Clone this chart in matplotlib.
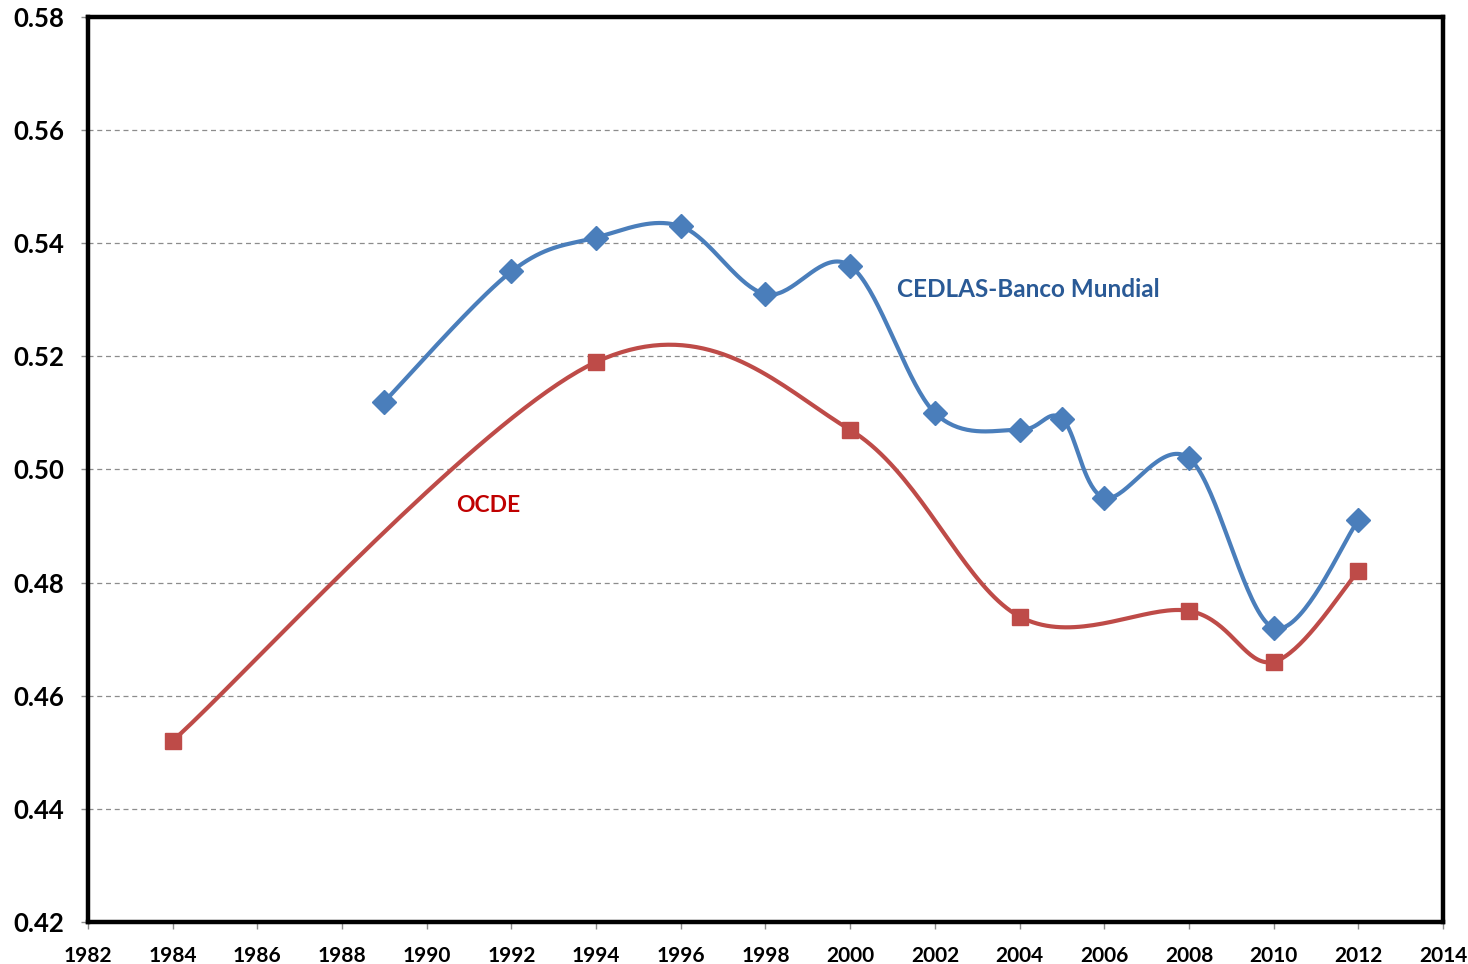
import numpy as np
import matplotlib
matplotlib.use("Agg")
import matplotlib.pyplot as plt

# Data
cedlas_years = [1989, 1992, 1994, 1996, 1998, 2000, 2002, 2004, 2005, 2006, 2008, 2010, 2012]
cedlas_vals = [0.512, 0.535, 0.541, 0.543, 0.531, 0.536, 0.510, 0.507, 0.509, 0.495, 0.502, 0.472, 0.491]
ocde_years = [1984, 1994, 2000, 2004, 2008, 2010, 2012]
ocde_vals = [0.452, 0.519, 0.507, 0.474, 0.475, 0.466, 0.482]

x_ticks = list(range(1982, 2015, 2))
y_ticks = [0.42, 0.44, 0.46, 0.48, 0.50, 0.52, 0.54, 0.56, 0.58]

plt.rcParams['font.family'] = ['Lato', 'DejaVu Sans']

fig = plt.figure(figsize=(14.68, 9.64), dpi=100)
ax = fig.add_axes([0.0599, 0.0436, 0.9231, 0.9388])
ax.set_xlim(1982, 2014)
ax.set_ylim(0.42, 0.58)


def smooth(xs, ys, n=40):
    # Excel-like Catmull-Rom Bezier smoothing computed in display space
    pts = ax.transData.transform(np.column_stack([xs, ys]))
    P = np.vstack([pts[0], pts, pts[-1]])
    out = []
    for i in range(1, len(P) - 2):
        p0, p1, p2, p3 = P[i - 1], P[i], P[i + 1], P[i + 2]
        c1 = p1 + (p2 - p0) / 6.0
        c2 = p2 - (p3 - p1) / 6.0
        t = np.linspace(0, 1, n)[:, None]
        b = ((1 - t) ** 3) * p1 + 3 * ((1 - t) ** 2) * t * c1 + 3 * (1 - t) * t ** 2 * c2 + t ** 3 * p2
        out.append(b if i == 1 else b[1:])
    out = np.vstack(out)
    d = ax.transData.inverted().transform(out)
    return d[:, 0], d[:, 1]


blue = '#4A7EBB'
red = '#BE4B48'

for yt in y_ticks[1:-1]:
    ax.axhline(yt, color='#8C8C8C', lw=0.9, ls=(0, (4, 3)), zorder=1)

bx, by = smooth(cedlas_years, cedlas_vals)
ax.plot(bx, by, color=blue, lw=3, zorder=3, solid_capstyle='round')
ax.plot(cedlas_years, cedlas_vals, ls='none', marker='D', ms=12, color=blue, zorder=4)

rx, ry = smooth(ocde_years, ocde_vals)
ax.plot(rx, ry, color=red, lw=3, zorder=3, solid_capstyle='round')
ax.plot(ocde_years, ocde_vals, ls='none', marker='s', ms=12, color=red, zorder=4)

ax.text(2001.1, 0.5319, 'CEDLAS-Banco Mundial', color='#2A5A96', fontsize=17.5,
        fontweight='bold', va='center', ha='left')
ax.text(1990.7, 0.4937, 'OCDE', color='#C00000', fontsize=16.5,
        fontweight='bold', va='center', ha='left')

ax.set_xticks(x_ticks)
ax.set_yticks(y_ticks)
ax.set_xticklabels([str(v) for v in x_ticks])
ax.set_yticklabels(['%.2f' % v for v in y_ticks])
ax.tick_params(axis='x', length=5, width=1, color='#8C8C8C', labelsize=15, pad=12)
ax.tick_params(axis='y', length=5, width=1, color='#8C8C8C', labelsize=18.5, pad=12)
for lab in ax.get_xticklabels() + ax.get_yticklabels():
    lab.set_fontweight('bold')
for s in ax.spines.values():
    s.set_linewidth(3.2)
    s.set_color('black')

fig.savefig('out.png', dpi=100)
